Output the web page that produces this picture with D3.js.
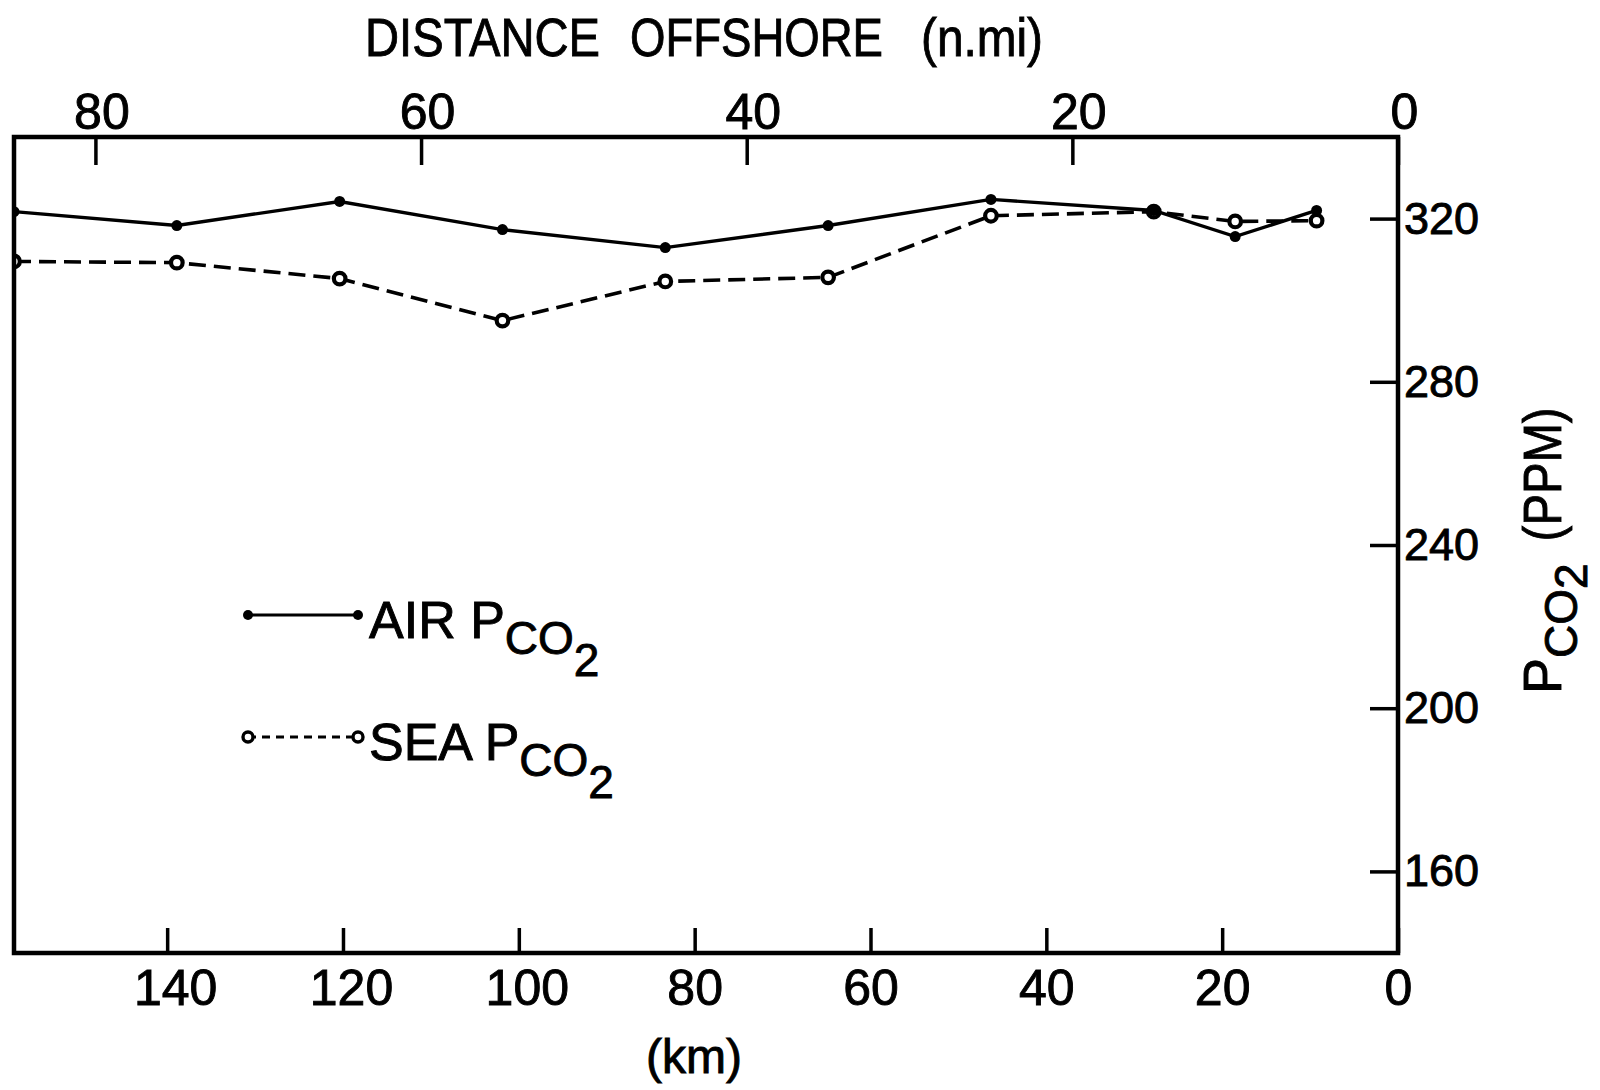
<!DOCTYPE html>
<html>
<head>
<meta charset="utf-8">
<script src="https://cdn.jsdelivr.net/npm/d3@7"></script>
<style>
  html, body { margin: 0; padding: 0; background: #fff; }
  svg text { font-family: "Liberation Sans", Arial, sans-serif; fill: #000; stroke: #000; stroke-width: 0.9px; }
</style>
</head>
<body>
<svg id="chart" width="1600" height="1090"></svg>
<script>
// stations, distance offshore in nautical miles
const distanceNmi = [85, 75, 65, 55, 45, 35, 25, 15, 10, 5];
// PCO2 (ppm)
const airPco2 = [321.7, 318.3, 324.2, 317.3, 312.9, 318.3, 324.7, 322.0, 315.6, 322.0];
const seaPco2 = [309.5, 309.2, 305.3, 295.0, 304.6, 305.6, 320.7, 321.7, 319.3, 319.5];

const nmiTicks = [80, 60, 40, 20, 0];
const kmTicks = [140, 120, 100, 80, 60, 40, 20, 0];
const ppmTicks = [320, 280, 240, 200, 160];

const KM_PER_NMI = 1.852;

const frame = { left: 14, right: 1398, top: 137, bottom: 953 };

const svg = d3.select('#chart');

const xNmi = d3.scaleLinear().domain([85, 0]).range([frame.left, frame.right]);
const xKm = d3.scaleLinear().domain([85 * KM_PER_NMI, 0]).range([frame.left, frame.right]);
const y = d3.scaleLinear().domain([140, 340]).range([frame.bottom, frame.top]);

const air = distanceNmi.map((d, i) => ({ nmi: d, ppm: airPco2[i] }));
const sea = distanceNmi.map((d, i) => ({ nmi: d, ppm: seaPco2[i] }));

// clip the marks to the frame
svg.append('clipPath').attr('id', 'plot-clip')
  .append('rect')
  .attr('x', frame.left).attr('y', frame.top)
  .attr('width', frame.right - frame.left).attr('height', frame.bottom - frame.top);

const plot = svg.append('g').attr('clip-path', 'url(#plot-clip)');

const line = d3.line()
  .x(d => xNmi(d.nmi))
  .y(d => y(d.ppm));

plot.append('path')
  .datum(sea)
  .attr('d', line)
  .attr('fill', 'none')
  .attr('stroke', '#000')
  .attr('stroke-width', 3.6)
  .attr('stroke-dasharray', '17,8');

plot.append('path')
  .datum(air)
  .attr('d', line)
  .attr('fill', 'none')
  .attr('stroke', '#000')
  .attr('stroke-width', 3.4);

plot.selectAll('.sea-dot')
  .data(sea)
  .enter()
  .append('circle')
  .attr('class', 'sea-dot')
  .attr('cx', d => xNmi(d.nmi))
  .attr('cy', d => y(d.ppm))
  .attr('r', 5.8)
  .attr('fill', '#fff')
  .attr('stroke', '#000')
  .attr('stroke-width', 4.2);

plot.selectAll('.air-dot')
  .data(air)
  .enter()
  .append('circle')
  .attr('class', 'air-dot')
  .attr('cx', d => xNmi(d.nmi))
  .attr('cy', d => y(d.ppm))
  .attr('r', 5.5)
  .attr('fill', '#000');

// axes
function styleAxis(g, size) {
  g.select('.domain').remove();
  g.selectAll('.tick line').attr('stroke', '#000').attr('stroke-width', 3.5);
  g.selectAll('.tick text')
    .attr('fill', '#000')
    .style('font-size', size + 'px')
    .style('font-family', '"Liberation Sans", Arial, sans-serif');
}

svg.append('g')
  .attr('transform', 'translate(0,' + frame.top + ')')
  .call(d3.axisTop(xNmi).tickValues(nmiTicks).tickSizeInner(-28).tickSizeOuter(0).tickPadding(8))
  .call(g => styleAxis(g, 50))
  .call(g => g.selectAll('.tick text').attr('dx', 6));

svg.append('g')
  .attr('transform', 'translate(0,' + frame.bottom + ')')
  .call(d3.axisBottom(xKm).tickValues(kmTicks).tickSizeInner(-25).tickSizeOuter(0).tickPadding(16))
  .call(g => styleAxis(g, 50))
  // the hand-lettered "1" is narrow, so the hundreds sit a little right
  .call(g => g.selectAll('.tick text').attr('dx', d => d >= 100 ? 8 : 0));

svg.append('g')
  .attr('transform', 'translate(' + frame.right + ',0)')
  .call(d3.axisRight(y).tickValues(ppmTicks).tickSizeInner(-28).tickSizeOuter(0).tickPadding(6))
  .call(g => styleAxis(g, 45));

// frame
svg.append('rect')
  .attr('x', frame.left).attr('y', frame.top)
  .attr('width', frame.right - frame.left).attr('height', frame.bottom - frame.top)
  .attr('fill', 'none')
  .attr('stroke', '#000')
  .attr('stroke-width', 4.5);

// title, word by word to keep the wide spacing
const titleWords = [
  { text: 'DISTANCE', x: 365, w: 235 },
  { text: 'OFFSHORE', x: 630, w: 253 },
  { text: '(n.mi)', x: 921, w: 122 }
];
svg.selectAll('.title-word')
  .data(titleWords)
  .enter()
  .append('text')
  .attr('class', 'title-word')
  .attr('x', d => d.x).attr('y', 56)
  .attr('textLength', d => d.w)
  .attr('lengthAdjust', 'spacingAndGlyphs')
  .style('font-size', '54px')
  .text(d => d.text);

svg.append('text')
  .attr('x', 694).attr('y', 1073)
  .attr('text-anchor', 'middle')
  .style('font-size', '48px')
  .text('(km)');

// right axis title, reading upward
const yTitle = svg.append('text')
  .attr('transform', 'translate(1561,694) rotate(-90)')
  .style('font-size', '54px');
yTitle.append('tspan').text('P');
yTitle.append('tspan').attr('dy', 16).style('font-size', '46px').text('CO');
yTitle.append('tspan').attr('dy', 10).style('font-size', '46px').text('2');
yTitle.append('tspan').attr('dy', -26).attr('dx', 22)
  .attr('textLength', 134).attr('lengthAdjust', 'spacingAndGlyphs')
  .text('(PPM)');

// legend
const legend = svg.append('g');
const legendRows = [
  { label: 'AIR', y: 615, dash: null, fill: '#000' },
  { label: 'SEA', y: 737, dash: '8,6', fill: '#fff' }
];
legendRows.forEach(row => {
  legend.append('line')
    .attr('x1', 248).attr('x2', 358)
    .attr('y1', row.y).attr('y2', row.y)
    .attr('stroke', '#000')
    .attr('stroke-width', 3.2)
    .attr('stroke-dasharray', row.dash);
  [248, 358].forEach(cx => {
    legend.append('circle')
      .attr('cx', cx).attr('cy', row.y)
      .attr('r', 5)
      .attr('fill', row.fill)
      .attr('stroke', '#000')
      .attr('stroke-width', row.dash ? 3.4 : 0);
  });
  const t = legend.append('text')
    .attr('x', 369).attr('y', row.y + 23)
    .style('font-size', '52px');
  t.append('tspan').text(row.label + ' P');
  t.append('tspan').attr('dy', 16).style('font-size', '46px').text('CO');
  t.append('tspan').attr('dy', 22).style('font-size', '46px').text('2');
});
</script>
</body>
</html>
